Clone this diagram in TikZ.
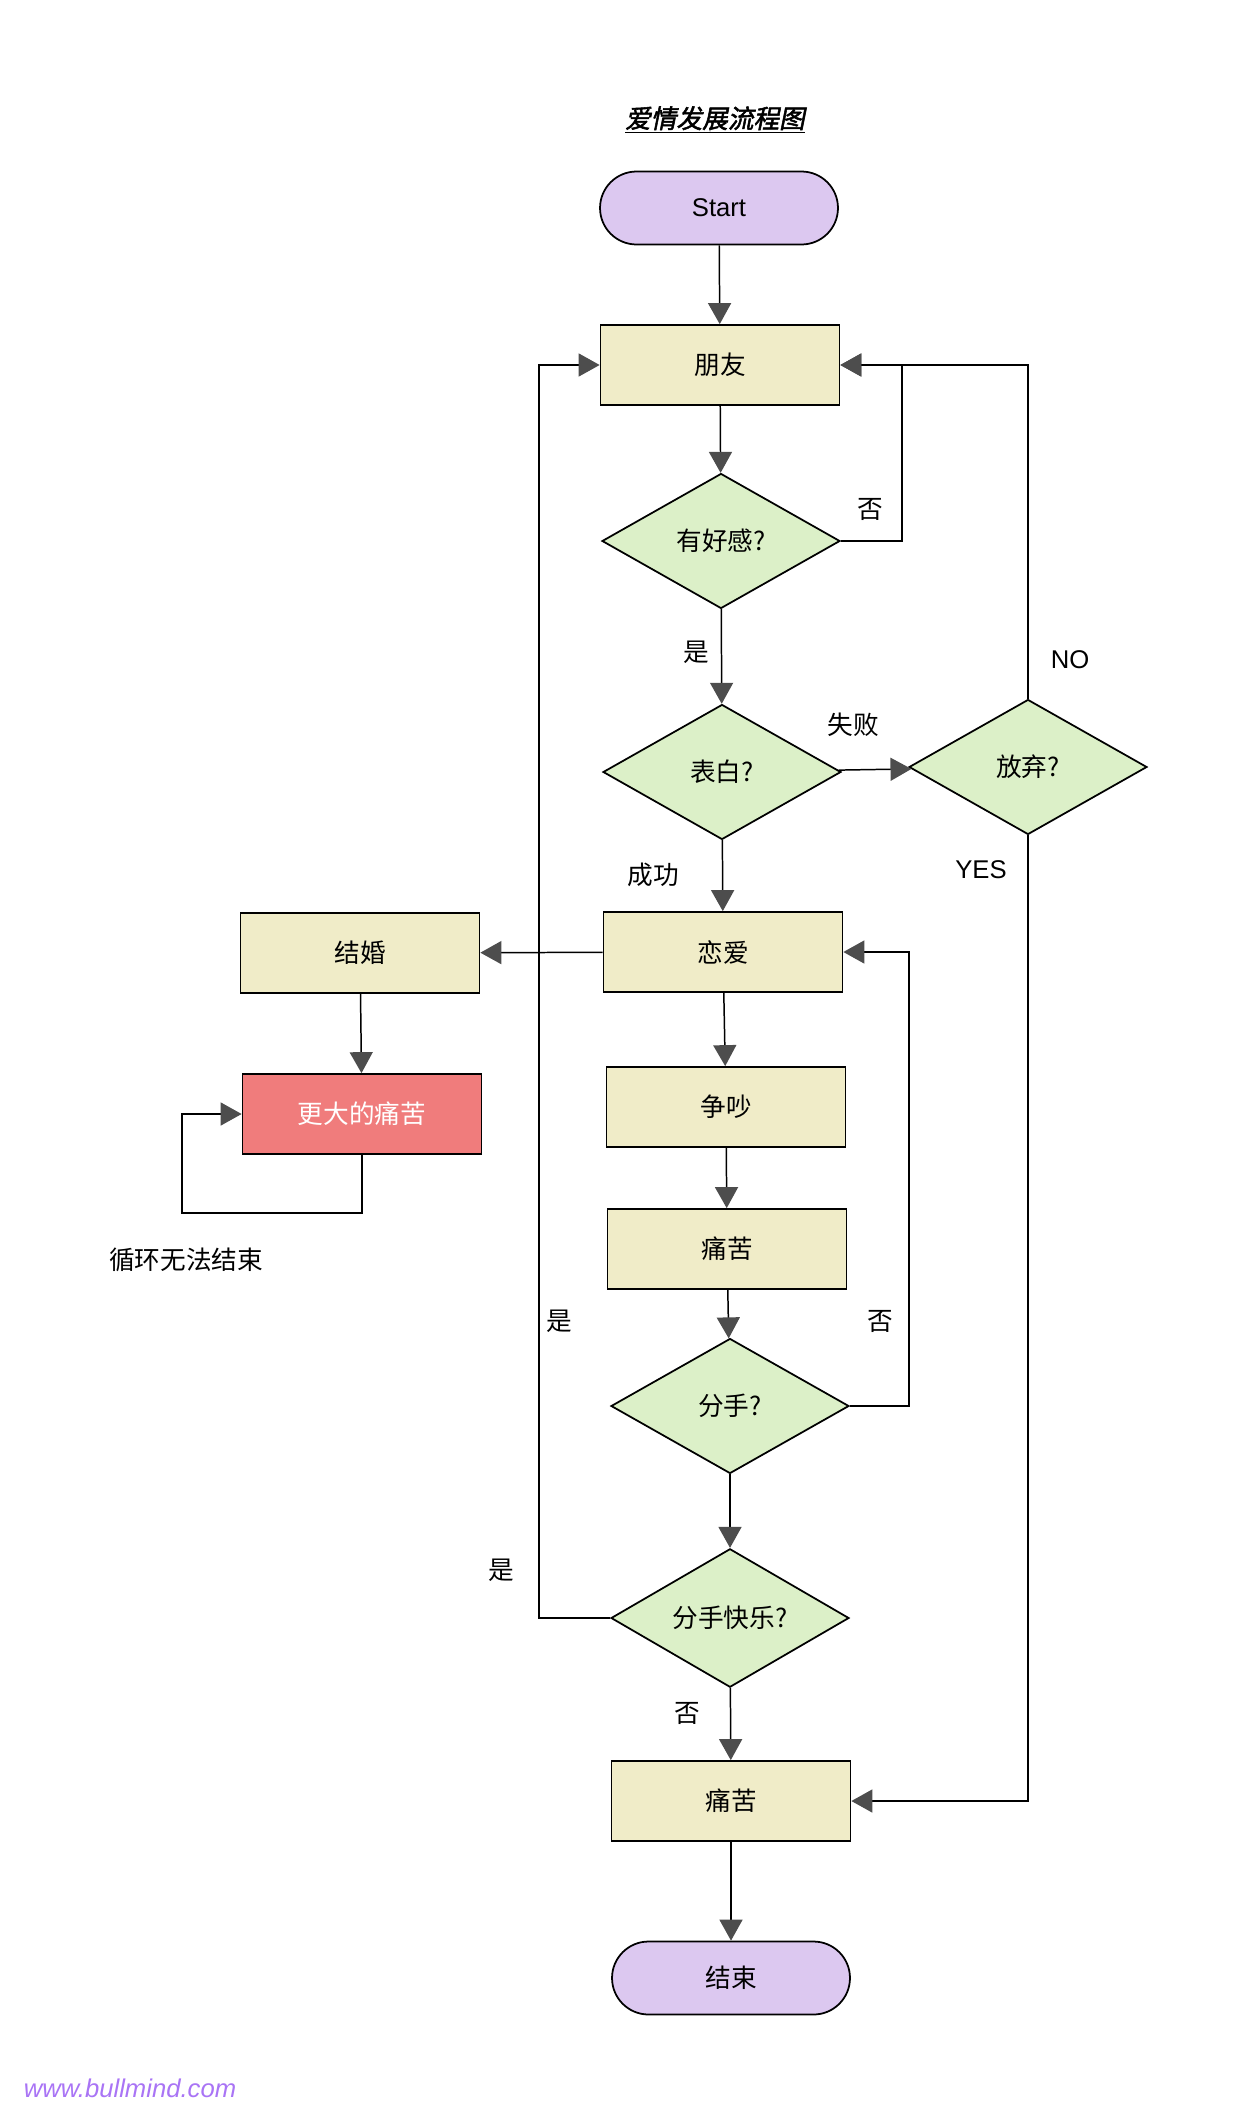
\documentclass[tikz,border=0pt]{standalone}
\usepackage{fontspec}
\usepackage{xcolor}
\usepackage{tikz}
\usetikzlibrary{shapes.geometric, arrows.meta, positioning}

\newfontfamily\cjk{Noto Sans CJK SC}
\newfontfamily\cjktitle{Noto Sans CJK SC}[FakeSlant=0.2, FakeBold=2]
\newfontfamily\latin{Liberation Sans}
\newcommand{\labelsize}{\fontsize{14.6}{17}\selectfont}

\definecolor{termfill}{HTML}{DCC8F0}
\definecolor{boxfill}{HTML}{F0ECC8}
\definecolor{decfill}{HTML}{DCF0C8}
\definecolor{painfill}{HTML}{F07C7C}
\definecolor{arrowgray}{HTML}{4D4D4D}
\definecolor{webpurple}{HTML}{A974F5}

\begin{document}
\begin{tikzpicture}[x=0.02cm, y=-0.02cm,
    >={Triangle[length=0.42cm, width=0.46cm, color=arrowgray]},
    every node/.style={font=\cjk\labelsize},
    terminal/.style={draw, line width=1pt, fill=termfill, rounded corners=0.73cm,
        minimum width=4.76cm, minimum height=1.46cm},
    box/.style={draw, line width=1pt, fill=boxfill, minimum width=4.78cm, minimum height=1.6cm},
    decision/.style={draw, diamond, line width=1pt, fill=decfill, inner sep=0pt,
        minimum width=4.76cm, minimum height=2.7cm},
    flow/.style={->, line width=0.85pt}]
    \useasboundingbox (0,0) rectangle (1247,2116);

    % Título
    \node[font=\cjktitle\labelsize] (title) at (715,120) {\underline{爱情发展流程图}};

    % Cajas y decisiones
    \node[terminal, font=\latin\labelsize] (start) at (719,208) {Start};
    \node[box] (friend) at (720,365) {朋友};
    \node[decision] (like) at (721,541) {有好感?};
    \node[decision] (confess) at (722,772) {表白?};
    \node[decision] (giveup) at (1028,767) {放弃?};
    \node[box] (love) at (723,952) {恋爱};
    \node[box] (marry) at (360,953) {结婚};
    \node[box, fill=painfill, text=white] (bigpain) at (362,1114) {更大的痛苦};
    \node[box] (quarrel) at (726,1107) {争吵};
    \node[box] (pain) at (727,1249) {痛苦};
    \node[decision] (split) at (730,1406) {分手?};
    \node[decision] (happy) at (730,1618) {分手快乐?};
    \node[box] (pain2) at (731,1801) {痛苦};
    \node[terminal] (finish) at (731,1978) {结束};

    % Flechas principales
    \draw[flow] (start) -- (friend);
    \draw[flow] (friend) -- (like);
    \draw[flow] (like) -- (confess);
    \draw[flow] (confess) -- (giveup);
    \draw[flow] (confess) -- (love);
    \draw[flow] (love) -- (marry);
    \draw[flow] (marry) -- (bigpain);
    \draw[flow] (love) -- (quarrel);
    \draw[flow] (quarrel) -- (pain);
    \draw[flow] (pain) -- (split);
    \draw[flow] (split) -- (happy);
    \draw[flow] (happy) -- (pain2);
    \draw[flow] (pain2) -- (finish);

    % Vueltas atrás
    \draw[flow] (like.east) -- ++(61,0) |- (friend.east);
    \draw[flow] (giveup.north) |- (friend.east);
    \draw[flow] (giveup.south) |- (pain2.east);
    \draw[flow] (split.east) -- ++(59,0) |- (love.east);
    \draw[flow] (happy.west) -- ++(-71,0) |- (friend.west);
    \coordinate (loopturn) at (182,1213);
    \draw[flow] (bigpain.south) |- (loopturn) |- (bigpain.west);

    % Etiquetas
    \node (no1) at (870,509) {否};
    \node (yes1) at (696,652) {是};
    \node (fail) at (853,725) {失败};
    \node[font=\latin\labelsize] (nolabel) at (1070,660) {NO};
    \node[font=\latin\labelsize] (yeslabel) at (981,870) {YES};
    \node (success) at (653,875) {成功};
    \node (loopnote) at (186,1260) {循环无法结束};
    \node (yes2) at (559,1321) {是};
    \node (no2) at (880,1321) {否};
    \node (yes3) at (501,1570) {是};
    \node (no3) at (687,1713) {否};
    \node[font=\latin\itshape\labelsize, text=webpurple] (site) at (130,2088) {www.bullmind.com};
\end{tikzpicture}
\end{document}
